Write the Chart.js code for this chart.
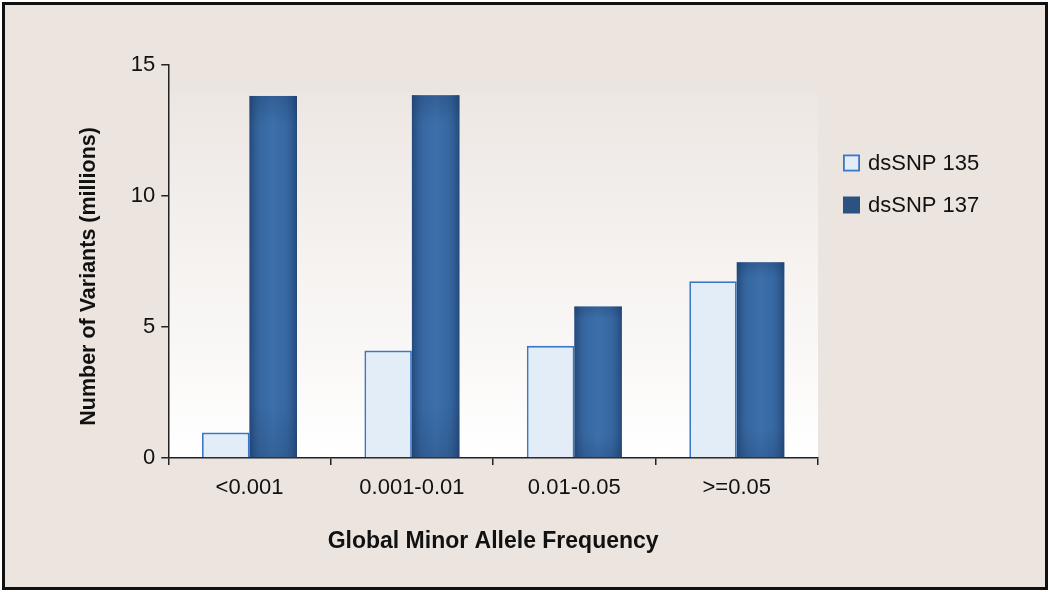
<!DOCTYPE html>
<html>
<head>
<meta charset="utf-8">
<script src="https://cdn.jsdelivr.net/npm/chart.js@4.4.1/dist/chart.umd.min.js"></script>
<style>
  html, body { margin: 0; padding: 0; background: #ffffff; }
  canvas { display: block; }
</style>
</head>
<body>
<canvas id="c" width="1050" height="592"></canvas>
<script>
const categories = ['<0.001', '0.001-0.01', '0.01-0.05', '>=0.05'];
const seriesNames = ['dsSNP 135', 'dsSNP 137'];
const dbsnp135 = [0.97, 4.1, 4.28, 6.75];
const dbsnp137 = [13.82, 13.85, 5.78, 7.47];
const yTicks = [0, 5, 10, 15];
const xTitle = 'Global Minor Allele Frequency';
const yTitle = 'Number of Variants (millions)';

const BG = '#ebe4df';
const FONT = "'Liberation Sans', Arial, Helvetica, sans-serif";

const framePlugin = {
  id: 'frame',
  beforeDraw(chart) {
    const { ctx, width, height, chartArea } = chart;
    ctx.save();
    ctx.fillStyle = '#ffffff';
    ctx.fillRect(0, 0, width, height);
    ctx.fillStyle = BG;
    ctx.fillRect(3, 3, width - 6, height - 6);
    ctx.strokeStyle = '#111111';
    ctx.lineWidth = 3;
    ctx.strokeRect(3.5, 3.5, width - 7, height - 7);
    // plot area gradient
    const top = chartArea.top + 28;
    const g = ctx.createLinearGradient(0, top, 0, chartArea.bottom);
    g.addColorStop(0, '#ede7e3');
    g.addColorStop(1, '#ffffff');
    ctx.fillStyle = g;
    ctx.fillRect(chartArea.left, top, chartArea.right - chartArea.left, chartArea.bottom - top);
    ctx.restore();
  },
  afterDatasetsDraw(chart) {
    const { ctx } = chart;
    const meta = chart.getDatasetMeta(1);
    ctx.save();
    meta.data.forEach(el => {
      const p = el.getProps(['x', 'y', 'base', 'width'], true);
      const x0 = p.x - p.width / 2;
      const h = p.base - p.y;
      const g = ctx.createLinearGradient(x0, 0, x0 + p.width, 0);
      g.addColorStop(0, 'rgba(20,45,85,0.45)');
      g.addColorStop(0.3, 'rgba(90,150,210,0.18)');
      g.addColorStop(0.5, 'rgba(100,160,220,0.25)');
      g.addColorStop(0.7, 'rgba(90,150,210,0.18)');
      g.addColorStop(1, 'rgba(20,45,85,0.45)');
      ctx.fillStyle = g;
      ctx.fillRect(x0, p.y, p.width, h);
      const gv = ctx.createLinearGradient(0, p.y, 0, p.base);
      gv.addColorStop(0, 'rgba(20,45,85,0.25)');
      gv.addColorStop(0.08, 'rgba(20,45,85,0)');
      gv.addColorStop(0.85, 'rgba(20,45,85,0)');
      gv.addColorStop(1, 'rgba(20,45,85,0.2)');
      ctx.fillStyle = gv;
      ctx.fillRect(x0, p.y, p.width, h);
    });
    ctx.restore();
  },
  afterDraw(chart) {
    const { ctx, chartArea } = chart;
    ctx.save();
    const bx = chartArea.right + 25;
    const rows = [163, 205];
    ctx.font = '22px ' + FONT;
    ctx.textBaseline = 'middle';
    ctx.textAlign = 'left';
    chart.data.datasets.forEach((ds, i) => {
      const cy = rows[i];
      ctx.fillStyle = ds.legendFill;
      ctx.fillRect(bx, cy - 8.5, 17, 17);
      if (ds.legendStroke) {
        ctx.strokeStyle = ds.legendStroke;
        ctx.lineWidth = 1.8;
        ctx.strokeRect(bx + 0.9, cy - 7.6, 15.2, 15.2);
      }
      ctx.fillStyle = '#111111';
      ctx.fillText(ds.label, bx + 25, cy + 1);
    });
    ctx.restore();
  }
};

new Chart(document.getElementById('c'), {
  type: 'bar',
  data: {
    labels: categories,
    datasets: [
      {
        label: seriesNames[0],
        data: dbsnp135,
        backgroundColor: '#e2edf8',
        borderColor: '#3a78c6',
        borderWidth: 1.8,
        legendFill: '#e2edf8',
        legendStroke: '#3a78c6',
        categoryPercentage: 0.585,
        barPercentage: 1.0
      },
      {
        label: seriesNames[1],
        data: dbsnp137,
        backgroundColor: '#30609a',
        borderWidth: 0,
        legendFill: '#2c5282',
        categoryPercentage: 0.585,
        barPercentage: 1.0
      }
    ]
  },
  options: {
    responsive: false,
    animation: false,
    devicePixelRatio: 1,
    layout: { padding: { left: 64, right: 232, top: 65, bottom: 33 } },
    plugins: {
      legend: { display: false },
      tooltip: { enabled: false }
    },
    scales: {
      x: {
        grid: {
          display: true,
          drawOnChartArea: false,
          drawTicks: true,
          tickLength: 7,
          color: '#222222',
          lineWidth: 1.5,
          offset: true
        },
        border: { display: true, color: '#222222', width: 1.5 },
        ticks: {
          color: '#111111',
          font: { family: FONT, size: 22 },
          padding: 10,
          maxRotation: 0
        },
        title: {
          display: true,
          text: xTitle,
          color: '#111111',
          font: { family: FONT, size: 23, weight: 'bold' },
          padding: { top: 16, bottom: 4 }
        }
      },
      y: {
        min: 0,
        max: 15,
        afterBuildTicks(scale) {
          scale.ticks = yTicks.map(v => ({ value: v }));
        },
        grid: {
          display: true,
          drawOnChartArea: false,
          drawTicks: true,
          tickLength: 7,
          color: '#222222',
          lineWidth: 1.5
        },
        border: { display: true, color: '#222222', width: 1.5 },
        ticks: {
          color: '#111111',
          font: { family: FONT, size: 22 },
          padding: 6
        },
        title: {
          display: true,
          text: yTitle + '     ',
          color: '#111111',
          font: { family: FONT, size: 21.5, weight: 'bold' },
          padding: { top: 12, bottom: 23 }
        }
      }
    }
  },
  plugins: [framePlugin]
});
</script>
</body>
</html>
